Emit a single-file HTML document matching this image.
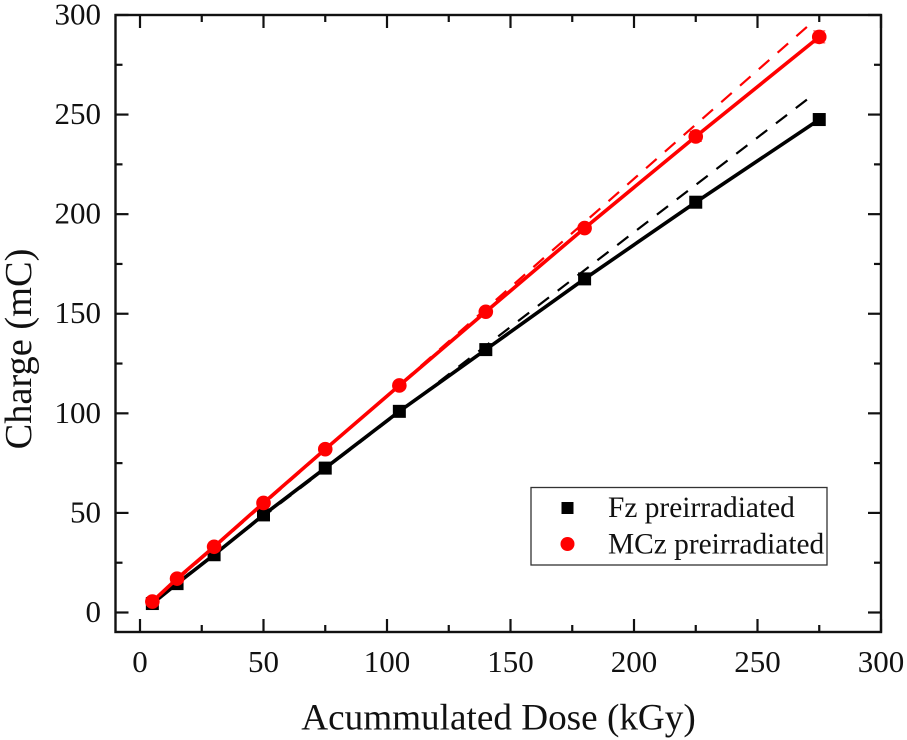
<!DOCTYPE html>
<html>
<head>
<meta charset="utf-8">
<style>
html,body{margin:0;padding:0;background:#fff;width:907px;height:740px;overflow:hidden}
svg{display:block}
text{font-family:"Liberation Serif",serif;fill:#111}
</style>
</head>
<body>
<svg id="chart" width="907" height="740" viewBox="0 0 907 740" xmlns="http://www.w3.org/2000/svg">
<g id="fits"></g>
<g id="series"></g>
<g id="axes"></g>
<text x="498.5" y="729.5" font-size="37.2" text-anchor="middle">Acummulated Dose (kGy)</text>
<text transform="translate(31,349) rotate(-90)" font-size="38.4" text-anchor="middle">Charge (mC)</text>
<g>
<rect x="531" y="487.5" width="296" height="77.5" fill="#fff" stroke="#333" stroke-width="1.3"/>
<rect x="561.5" y="502" width="12" height="12" fill="#000"/>
<text x="608" y="517" font-size="29.4">Fz preirradiated</text>
<circle cx="567.5" cy="544" r="7" fill="#f00"/>
<text x="608" y="553.5" font-size="29.4">MCz preirradiated</text>
</g>
</svg>
<script>
const doseValues = [5, 15, 30, 50, 75, 105, 140, 180, 225, 275];
const fzCharge = [4.5, 14.5, 29, 49, 72.5, 101, 132, 167.5, 206, 247.5];
const mczCharge = [5.5, 17, 33, 55, 82, 114, 151, 193, 239, 289];
const fzError = [1, 1, 1, 1, 1, 1, 1, 1.5, 2, 3];
const mczError = [1, 1, 1, 1, 1, 1, 1.5, 2, 2.5, 3];
const fitDose = [5, 270];
const fzFit = [5.5, 257.5];
const mczFit = [5.4, 294];
const xTicks = [0, 50, 100, 150, 200, 250, 300];
const yTicks = [0, 50, 100, 150, 200, 250, 300];
const xMinorTicks = [25, 75, 125, 175, 225, 275];
const yMinorTicks = [25, 75, 125, 175, 225, 275];

const NS = 'http://www.w3.org/2000/svg';
const sx = v => 140 + v * 2.47;
const sy = v => 612.5 - v * 1.9917;
const L = 115.5, R = 881, T = 15, B = 632;

function mk(parent, tag, attrs) {
  const el = document.createElementNS(NS, tag);
  for (const k in attrs) el.setAttribute(k, attrs[k]);
  parent.appendChild(el);
  return el;
}

const axes = document.getElementById('axes');
const frame = mk(axes, 'rect', {x: L, y: T, width: R - L, height: B - T, fill: 'none', stroke: '#111', 'stroke-width': 2.4});



function tickLine(x1, y1, x2, y2) {
  const t = mk(axes, 'line', {x1, y1, x2, y2, stroke: '#111', 'stroke-width': 2.2});
  
  
}
xTicks.forEach(v => {
  tickLine(sx(v), B, sx(v), B - 13);
  tickLine(sx(v), T, sx(v), T + 13);
  const lbl = mk(axes, 'text', {x: sx(v), y: 672, 'font-size': 31, 'text-anchor': 'middle'});
  lbl.textContent = v;
  
  
});
xMinorTicks.forEach(v => {
  tickLine(sx(v), B, sx(v), B - 7);
  tickLine(sx(v), T, sx(v), T + 7);
});
yTicks.forEach(v => {
  tickLine(L, sy(v), L + 13, sy(v));
  tickLine(R, sy(v), R - 13, sy(v));
  const lbl = mk(axes, 'text', {x: 101, y: sy(v) + 9.5, 'font-size': 31, 'text-anchor': 'end'});
  lbl.textContent = v;
  
  
});
yMinorTicks.forEach(v => {
  tickLine(L, sy(v), L + 7, sy(v));
  tickLine(R, sy(v), R - 7, sy(v));
});

const fits = document.getElementById('fits');
function drawFit(vals, color, name) {
  const l = mk(fits, 'line', {x1: sx(fitDose[1]), y1: sy(vals[1]), x2: sx(fitDose[0]), y2: sy(vals[0]), stroke: color, 'stroke-width': 2.2, 'stroke-dasharray': '14 11'});
  
  
}
drawFit(fzFit, '#000', 'fz-fit-line');
drawFit(mczFit, '#f00', 'mcz-fit-line');

const series = document.getElementById('series');
function drawSeries(vals, errs, color, isSquare, name) {
  const pts = doseValues.map((d, i) => sx(d) + ',' + sy(vals[i])).join(' ');
  const line = mk(series, 'polyline', {points: pts, fill: 'none', stroke: color, 'stroke-width': 3.6});
  
  
  doseValues.forEach((d, i) => {
    const cx = sx(d), cy = sy(vals[i]);
    const hi = sy(vals[i] + errs[i]), lo = sy(vals[i] - errs[i]);
    const eb = mk(series, 'path', {d: `M${cx - 6} ${hi}H${cx + 6}M${cx} ${hi}V${lo}M${cx - 6} ${lo}H${cx + 6}`, stroke: color, 'stroke-width': 1, fill: 'none', opacity: 0.8});
    
    
    let m;
    if (isSquare) {
      m = mk(series, 'rect', {x: cx - 6.5, y: cy - 6.5, width: 13, height: 13, fill: color});
    } else {
      m = mk(series, 'circle', {cx, cy, r: 7.3, fill: color});
    }
    
    
  });
}
drawSeries(fzCharge, fzError, '#000', true, 'fz');
drawSeries(mczCharge, mczError, '#f00', false, 'mcz');
</script>
</body>
</html>
